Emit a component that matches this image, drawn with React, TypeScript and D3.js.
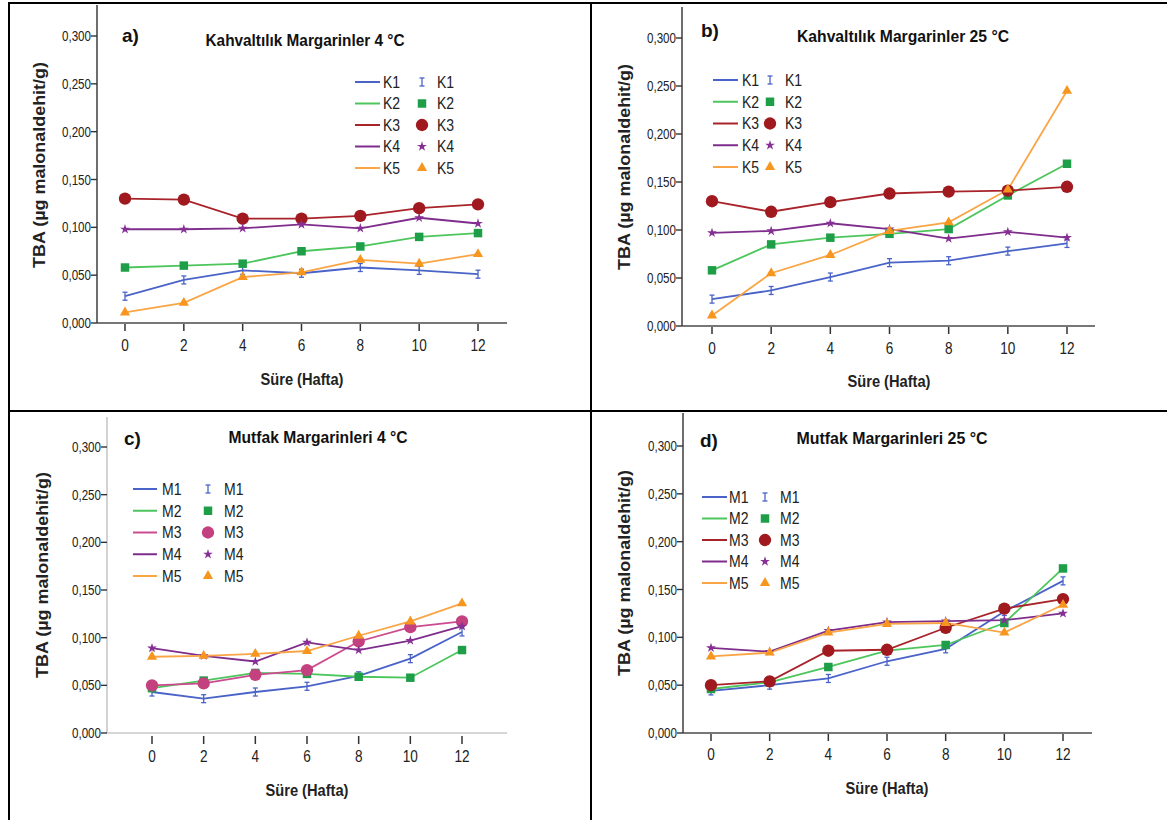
import React from "react";
import * as d3 from "d3";

const weeks = [0, 2, 4, 6, 8, 10, 12];
const yTickValues = [0, 0.05, 0.1, 0.15, 0.2, 0.25, 0.3];

// Panel a: Kahvaltılık Margarinler 4 °C
const a_K1 = [0.028, 0.045, 0.055, 0.052, 0.058, 0.055, 0.051];
const a_K2 = [0.058, 0.06, 0.062, 0.075, 0.08, 0.09, 0.094];
const a_K3 = [0.13, 0.129, 0.109, 0.109, 0.112, 0.12, 0.124];
const a_K4 = [0.098, 0.098, 0.099, 0.103, 0.099, 0.11, 0.104];
const a_K5 = [0.011, 0.021, 0.048, 0.053, 0.066, 0.062, 0.072];

// Panel b: Kahvaltılık Margarinler 25 °C
const b_K1 = [0.028, 0.037, 0.051, 0.066, 0.068, 0.078, 0.086];
const b_K2 = [0.058, 0.085, 0.092, 0.096, 0.101, 0.136, 0.169];
const b_K3 = [0.13, 0.119, 0.129, 0.138, 0.14, 0.141, 0.145];
const b_K4 = [0.097, 0.099, 0.107, 0.101, 0.091, 0.098, 0.092];
const b_K5 = [0.011, 0.055, 0.074, 0.099, 0.108, 0.142, 0.245];

// Panel c: Mutfak Margarinleri 4 °C
const c_M1 = [0.043, 0.036, 0.043, 0.049, 0.06, 0.078, 0.106];
const c_M2 = [0.047, 0.055, 0.063, 0.062, 0.059, 0.058, 0.087];
const c_M3 = [0.05, 0.052, 0.061, 0.066, 0.096, 0.111, 0.117];
const c_M4 = [0.089, 0.081, 0.075, 0.095, 0.087, 0.097, 0.112];
const c_M5 = [0.08, 0.081, 0.083, 0.086, 0.102, 0.117, 0.136];

// Panel d: Mutfak Margarinleri 25 °C
const d_M1 = [0.044, 0.05, 0.057, 0.075, 0.088, 0.127, 0.159];
const d_M2 = [0.046, 0.053, 0.069, 0.086, 0.092, 0.115, 0.172];
const d_M3 = [0.05, 0.054, 0.086, 0.087, 0.11, 0.13, 0.14];
const d_M4 = [0.089, 0.085, 0.107, 0.116, 0.117, 0.118, 0.125];
const d_M5 = [0.08, 0.084, 0.105, 0.114, 0.115, 0.105, 0.134];

const kNames = ["K1", "K2", "K3", "K4", "K5"];
const mNames = ["M1", "M2", "M3", "M4", "M5"];
const shapes = ["ibar", "square", "circle", "star", "triangle"];

const lineColors = ["#4a63c8", "#4cc65c", "#a8232a", "#7e2d8c", "#f9a545"];
const markColors = ["#4a63c8", "#1e9e48", "#a0191e", "#862f94", "#f7961f"];
const pinkLine = "#cc4b8e";
const pinkMark = "#c4417f";

const SANS = "'Liberation Sans', Arial, sans-serif";

const fmt = (v: number) => d3.format(".3f")(v).replace(".", ",");

// condensed text (narrow look) via horizontal scaling
function NText({ x, y, anchor = "start", size, bold, children, sx = 0.82 }: any) {
  return (
    <text
      transform={`translate(${x},${y}) scale(${sx},1)`}
      dy="0.35em"
      textAnchor={anchor}
      fontFamily={SANS}
      fontWeight={bold ? "bold" : "normal"}
      fontSize={size}
      fill="#222"
    >
      {children}
    </text>
  );
}

function Marker({ shape, x, y, color }: any) {
  if (shape === "ibar") {
    return (
      <g stroke={color} strokeWidth={1.3}>
        <line x1={x} x2={x} y1={y - 4} y2={y + 4} />
        <line x1={x - 2.5} x2={x + 2.5} y1={y - 4} y2={y - 4} />
        <line x1={x - 2.5} x2={x + 2.5} y1={y + 4} y2={y + 4} />
      </g>
    );
  }
  let sym: any = d3.symbolCircle;
  let size = 120;
  if (shape === "square") { sym = d3.symbolSquare; size = 72; }
  if (shape === "star") { sym = d3.symbolStar; size = 30; }
  if (shape === "triangle") { sym = d3.symbolTriangle; size = 45; }
  const p = d3.symbol().type(sym).size(size)() as string;
  return <path d={p} transform={`translate(${x},${y})`} fill={color} />;
}

function Panel(props: any) {
  const {
    axisX, yTop, y0, y300, x0, x12, xEnd, tickLabelY, xTitle, yTitle, tag, title, titleLen,
    legend, series, names, lColors, mColors, light,
  } = props;
  const xs = d3.scaleLinear().domain([0, 12]).range([x0, x12]);
  const ys = d3.scaleLinear().domain([0, 0.3]).range([y0, y300]);
  const line = d3.line<number>().x((_, i) => xs(weeks[i])).y((v) => ys(v));
  const axisColor = light ? "#c8c8c8" : "#4a4a4a";
  return (
    <g>
      {/* axes */}
      <line x1={axisX} x2={axisX} y1={yTop} y2={y0} stroke={axisColor} strokeWidth={1.6} />
      <line x1={axisX} x2={xEnd} y1={y0} y2={y0} stroke={axisColor} strokeWidth={1.6} />
      {yTickValues.map((t) => (
        <g key={t}>
          <line x1={axisX - 6} x2={axisX} y1={ys(t)} y2={ys(t)} stroke="#333" strokeWidth={1.4} />
          <NText x={axisX - 6} y={ys(t)} anchor="end" size={14.5} sx={0.8}>
            {fmt(t)}
          </NText>
        </g>
      ))}
      {weeks.map((w) => (
        <g key={w}>
          <line x1={xs(w)} x2={xs(w)} y1={y0 + (light ? 3 : 1)} y2={y0 + (light ? 11 : 8)} stroke="#333" strokeWidth={1.5} />
          <NText x={xs(w)} y={tickLabelY} anchor="middle" size={16} sx={0.85}>
            {w}
          </NText>
        </g>
      ))}
      <text x={xTitle[0]} y={xTitle[1]} dy="0.35em" textAnchor="middle" fontFamily={SANS} fontWeight="bold" fontSize={16} fill="#222" textLength={83} lengthAdjust="spacingAndGlyphs">
        Süre (Hafta)
      </text>
      <text transform={`translate(${yTitle[0]},${yTitle[1]}) rotate(-90)`} dy="0.35em" textAnchor="middle" fontFamily={SANS} fontWeight="bold" fontSize={17} fill="#222" textLength={206} lengthAdjust="spacingAndGlyphs">
        TBA (µg malonaldehit/g)
      </text>
      <text x={tag[0]} y={tag[1]} dy="0.35em" fontFamily={SANS} fontWeight="bold" fontSize={19} fill="#111">
        {tag[2]}
      </text>
      <text x={title[0]} y={title[1]} dy="0.35em" textAnchor="middle" fontFamily={SANS} fontWeight="bold" fontSize={17} fill="#111" textLength={titleLen} lengthAdjust="spacingAndGlyphs">
        {title[2]}
      </text>
      {/* lines */}
      {series.map((s: number[], i: number) => (
        <path key={"l" + i} d={line(s) as string} fill="none" stroke={lColors[i]} strokeWidth={1.8} />
      ))}
      {series.map((s: number[], i: number) => (
        <g key={"m" + i}>
          {s.map((v, j) => (
            <Marker key={j} shape={shapes[i]} x={xs(weeks[j])} y={ys(v)} color={mColors[i]} />
          ))}
        </g>
      ))}
      {/* legend */}
      {names.map((n: string, i: number) => {
        const ry = legend.y + i * legend.step;
        return (
          <g key={"lg" + i}>
            <line x1={legend.l1} x2={legend.l2} y1={ry} y2={ry} stroke={lColors[i]} strokeWidth={2} />
            <NText x={legend.t1} y={ry} size={16.5} sx={0.85}>{n}</NText>
            <Marker shape={shapes[i]} x={legend.m} y={ry} color={mColors[i]} />
            <NText x={legend.t2} y={ry} size={16.5} sx={0.85}>{n}</NText>
          </g>
        );
      })}
    </g>
  );
}

export default function App() {
  const cLine = [lineColors[0], lineColors[1], pinkLine, lineColors[3], lineColors[4]];
  const cMark = [markColors[0], markColors[1], pinkMark, markColors[3], markColors[4]];
  return (
    <svg width={1167} height={820} style={{ position: "absolute", left: 0, top: 0, background: "#fff" }}>
      <rect x={0} y={0} width={1167} height={820} fill="#fff" />
      <Panel
        axisX={97} yTop={5} y0={323} y300={36} x0={125} x12={478} xEnd={507} tickLabelY={345}
        xTitle={[302, 379]} yTitle={[39, 165]} tag={[122, 35, "a)"]}
        title={[305, 40, "Kahvaltılık Margarinler 4 °C"]} titleLen={199}
        legend={{ l1: 355, l2: 380, t1: 383, m: 422, t2: 437, y: 82, step: 21.5 }}
        series={[a_K1, a_K2, a_K3, a_K4, a_K5]} names={kNames} lColors={lineColors} mColors={markColors}
      />
      <Panel
        axisX={682} yTop={7} y0={326} y300={38} x0={712} x12={1067} xEnd={1095} tickLabelY={348}
        xTitle={[889, 381]} yTitle={[624, 167]} tag={[701, 30, "b)"]}
        title={[903, 36, "Kahvaltılık Margarinler 25 °C"]} titleLen={212}
        legend={{ l1: 713, l2: 738, t1: 742, m: 770, t2: 785, y: 80, step: 21.75 }}
        series={[b_K1, b_K2, b_K3, b_K4, b_K5]} names={kNames} lColors={lineColors} mColors={markColors}
      />
      <Panel
        axisX={107} yTop={417} y0={733} y300={447} x0={152} x12={462} xEnd={507} tickLabelY={756}
        xTitle={[307, 790]} yTitle={[42, 575]} tag={[124, 438, "c)"]}
        title={[318, 437, "Mutfak Margarinleri 4 °C"]} titleLen={179}
        legend={{ l1: 133, l2: 157, t1: 162, m: 208, t2: 224, y: 489, step: 21.75 }}
        series={[c_M1, c_M2, c_M3, c_M4, c_M5]} names={mNames} lColors={cLine} mColors={cMark} light
      />
      <Panel
        axisX={683} yTop={413} y0={733} y300={446} x0={711} x12={1063} xEnd={1092} tickLabelY={754}
        xTitle={[887, 788]} yTitle={[624, 573]} tag={[700, 440, "d)"]}
        title={[892, 438, "Mutfak Margarinleri 25 °C"]} titleLen={191}
        legend={{ l1: 702, l2: 727, t1: 729, m: 765, t2: 780, y: 497, step: 21.5 }}
        series={[d_M1, d_M2, d_M3, d_M4, d_M5]} names={mNames} lColors={lineColors} mColors={markColors}
      />
      {/* table borders */}
      <line x1={8} x2={1167} y1={3} y2={3} stroke="#000" strokeWidth={2} />
      <line x1={9} x2={9} y1={2} y2={820} stroke="#000" strokeWidth={2} />
      <line x1={591} x2={591} y1={2} y2={820} stroke="#000" strokeWidth={2} />
      <line x1={8} x2={1167} y1={411} y2={411} stroke="#000" strokeWidth={2} />
    </svg>
  );
}
